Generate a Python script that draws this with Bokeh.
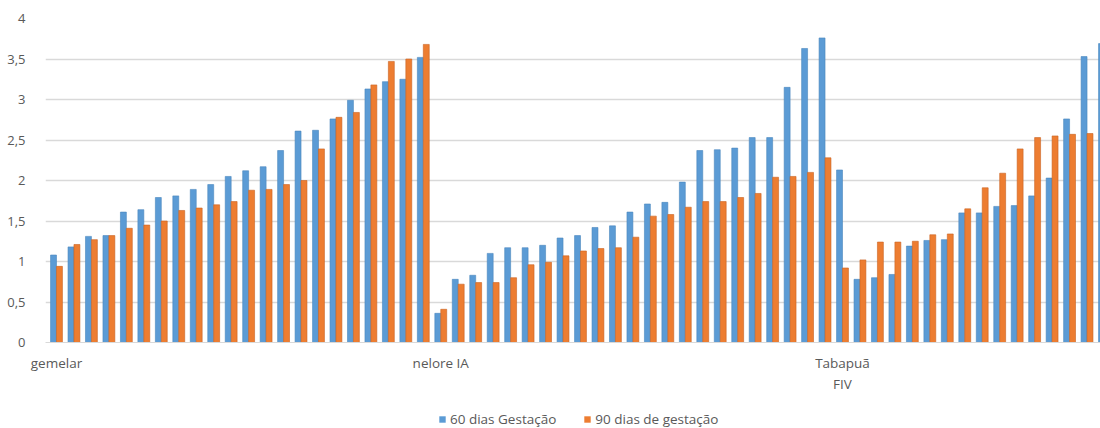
import numpy as np
from bokeh.plotting import figure
from bokeh.layouts import column
from bokeh.models import ColumnDataSource, FixedTicker, Legend, LegendItem
from bokeh.embed import file_html
from bokeh.resources import INLINE

# ---- data ----
group_labels = {1: "gemelar", 23: "nelore IA", 46: "Tabapuã\nFIV"}
series_names = ["60 dias Gestação", "90 dias de gestação"]

dias60 = [1.08, 1.18, 1.31, 1.32, 1.61, 1.64, 1.79, 1.81, 1.89, 1.95, 2.05,
          2.12, 2.17, 2.37, 2.61, 2.62, 2.76, 2.99, 3.13, 3.22, 3.25, 3.52,
          0.36, 0.78, 0.83, 1.10, 1.17, 1.17, 1.20, 1.29, 1.32, 1.42, 1.44,
          1.61, 1.71, 1.73, 1.98, 2.37, 2.38, 2.40, 2.53, 2.53, 3.15, 3.63, 3.76,
          2.13, 0.78, 0.80, 0.84, 1.19, 1.26, 1.27, 1.60, 1.60, 1.68, 1.69,
          1.81, 2.03, 2.76, 3.53, 3.69]
dias90 = [0.94, 1.21, 1.27, 1.32, 1.41, 1.45, 1.50, 1.63, 1.66, 1.70, 1.74,
          1.88, 1.89, 1.95, 2.00, 2.39, 2.78, 2.84, 3.18, 3.47, 3.50, 3.68,
          0.41, 0.72, 0.74, 0.74, 0.80, 0.96, 0.99, 1.07, 1.13, 1.16, 1.17,
          1.30, 1.56, 1.58, 1.67, 1.74, 1.74, 1.79, 1.84, 2.04, 2.05, 2.10, 2.28,
          0.92, 1.02, 1.24, 1.24, 1.25, 1.33, 1.34, 1.65, 1.91, 2.09, 2.39,
          2.53, 2.55, 2.57, 2.58, float("nan")]
y_ticks = [0, 0.5, 1, 1.5, 2, 2.5, 3, 3.5, 4]
y_tick_labels = ["0", "0,5", "1", "1,5", "2", "2,5", "3", "3,5", "4"]

n = len(dias60)
x = np.arange(1, n + 1)
BLUE = "#5B9BD5"
ORANGE = "#ED7D31"
TXT = "#595959"
FONT = "Open Sans"

src = ColumnDataSource(dict(x=x, x60=x - 0.17, x90=x + 0.17,
                            d60=dias60, d90=dias90))

p = figure(width=1100, height=400, output_backend="svg", toolbar_location=None,
           x_range=(1 - 11 / 17.47, n - 4 / 17.47), y_range=(0, 4),
           min_border_left=45, min_border_right=0, min_border_top=18,
           min_border_bottom=58)
p.outline_line_color = None

p.vbar(x="x60", top="d60", width=0.34, source=src, fill_color=BLUE,
       line_color="#4A86BE", line_width=0.6)
p.vbar(x="x90", top="d90", width=0.34, source=src, fill_color=ORANGE,
       line_color="#C96321", line_width=0.6)

p.xgrid.grid_line_color = None
p.ygrid.grid_line_color = "#D9D9D9"
p.ygrid.grid_line_width = 1.3
p.yaxis.ticker = FixedTicker(ticks=y_ticks)
p.yaxis.major_label_overrides = {t: l for t, l in zip(y_ticks, y_tick_labels)}
p.yaxis.axis_line_color = None
p.yaxis.major_tick_line_color = None
p.yaxis.minor_tick_line_color = None
p.yaxis.major_label_standoff = 14
p.yaxis.major_label_text_font = FONT
p.yaxis.major_label_text_font_size = "13px"
p.yaxis.major_label_text_color = TXT

p.xaxis.ticker = FixedTicker(ticks=list(group_labels.keys()))
p.xaxis.major_label_overrides = group_labels
p.xaxis.axis_line_color = "#D9D9D9"
p.xaxis.major_tick_line_color = None
p.xaxis.minor_tick_line_color = None
p.xaxis.major_label_standoff = 5
p.xaxis.major_label_text_font = FONT
p.xaxis.major_label_text_font_size = "13.5px"
p.xaxis.major_label_text_color = TXT

# legend strip below the chart (hidden proxy renderers of the same data)
pl = figure(width=1100, height=28, output_backend="svg", toolbar_location=None,
            x_range=(0, 1), y_range=(0, 1), min_border=0)
pl.axis.visible = False
pl.grid.grid_line_color = None
pl.outline_line_color = None
g60 = pl.vbar(x="x60", top="d60", width=0.34, source=src, fill_color=BLUE,
              line_color=None, visible=False)
g90 = pl.vbar(x="x90", top="d90", width=0.34, source=src, fill_color=ORANGE,
              line_color=None, visible=False)
legend = Legend(items=[LegendItem(label=series_names[0], renderers=[g60]),
                       LegendItem(label=series_names[1], renderers=[g90])],
                orientation="horizontal", location=(393, 0),
                padding=0, margin=0, spacing=27, border_line_color=None,
                background_fill_alpha=0, glyph_width=8, glyph_height=8,
                label_standoff=4, label_text_font=FONT,
                label_text_font_size="13.5px", label_text_color=TXT)
pl.add_layout(legend, "center")

layout = column(p, pl, spacing=0)
open("out.html", "w").write(file_html(layout, INLINE))
